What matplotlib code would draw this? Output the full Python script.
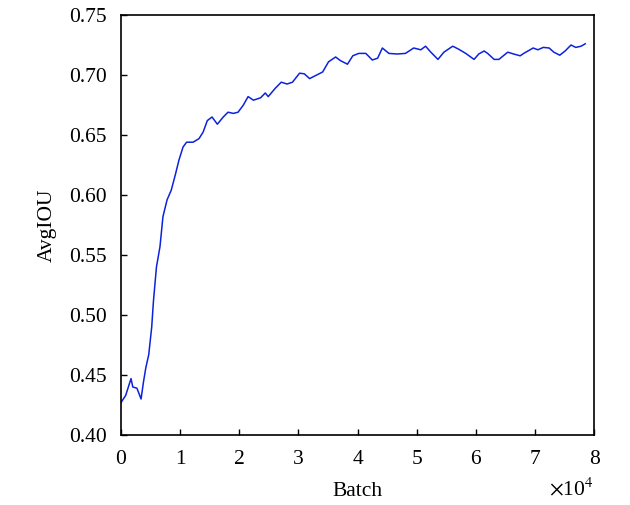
import matplotlib
matplotlib.use('Agg')
import matplotlib.pyplot as plt

plt.rcParams['font.family'] = ['Liberation Serif', 'DejaVu Serif']
plt.rcParams['mathtext.fontset'] = 'stix'

# batch (x 10^4) and average IOU
batch = [0.00, 0.08, 0.17, 0.20, 0.27, 0.34, 0.38, 0.42, 0.47, 0.52, 0.55,
         0.60, 0.66, 0.71, 0.78, 0.85, 0.92, 0.98, 1.05, 1.11, 1.22, 1.32,
         1.39, 1.46, 1.54, 1.63, 1.73, 1.81, 1.90, 1.98, 2.07, 2.15, 2.24,
         2.36, 2.44, 2.49, 2.61, 2.71, 2.81, 2.90, 3.02, 3.10, 3.19, 3.27,
         3.41, 3.51, 3.63, 3.71, 3.83, 3.92, 4.02, 4.14, 4.25, 4.34, 4.42,
         4.53, 4.67, 4.81, 4.95, 5.07, 5.15, 5.24, 5.36, 5.46, 5.61, 5.71,
         5.83, 5.97, 6.05, 6.14, 6.20, 6.31, 6.39, 6.54, 6.64, 6.75, 6.81,
         6.97, 7.05, 7.14, 7.24, 7.32, 7.42, 7.51, 7.61, 7.69, 7.78, 7.85]
avg_iou = [0.427, 0.433, 0.447, 0.440, 0.439, 0.430, 0.444, 0.456, 0.467,
           0.490, 0.512, 0.540, 0.557, 0.582, 0.596, 0.604, 0.617, 0.629,
           0.640, 0.644, 0.644, 0.647, 0.6525, 0.662, 0.665, 0.659, 0.665,
           0.669, 0.668, 0.669, 0.675, 0.682, 0.679, 0.681, 0.685, 0.682,
           0.689, 0.694, 0.6925, 0.694, 0.7015, 0.701, 0.697, 0.699, 0.7025,
           0.711, 0.715, 0.712, 0.709, 0.716, 0.718, 0.718, 0.7125, 0.714,
           0.7225, 0.718, 0.7175, 0.718, 0.7225, 0.721, 0.724, 0.719, 0.713,
           0.719, 0.724, 0.7215, 0.718, 0.713, 0.7175, 0.720, 0.718, 0.713,
           0.713, 0.719, 0.7175, 0.716, 0.718, 0.7225, 0.721, 0.723, 0.7225,
           0.719, 0.7165, 0.720, 0.725, 0.723, 0.724, 0.726]

fig = plt.figure(figsize=(6.3, 5.05), dpi=100)
ax = fig.add_axes([0.192, 0.1386, 0.751, 0.8317])

ax.plot(batch, avg_iou, color='#0d22dc', linewidth=1.1)

ax.set_xlim(0, 8)
ax.set_ylim(0.40, 0.75)
ax.set_xticks(range(0, 9))
ax.set_yticks([0.40, 0.45, 0.50, 0.55, 0.60, 0.65, 0.70, 0.75])
ax.set_yticklabels(['%.2f' % v for v in ax.get_yticks()])
ax.tick_params(direction='in', length=4, width=1, labelsize=15.5)
ax.tick_params(axis='x', pad=11)
ax.tick_params(axis='y', pad=10)
for sp in ax.spines.values():
    sp.set_linewidth(1.2)

ax.set_xlabel('Batch', fontsize=15.5, labelpad=9)
ax.set_ylabel('AvgIOU', fontsize=15.5, labelpad=9)
ax.text(1.0, -0.143, r'$\times$10$^4$', transform=ax.transAxes,
        ha='right', va='baseline', fontsize=15.5)

fig.savefig('out.png', dpi=100)
